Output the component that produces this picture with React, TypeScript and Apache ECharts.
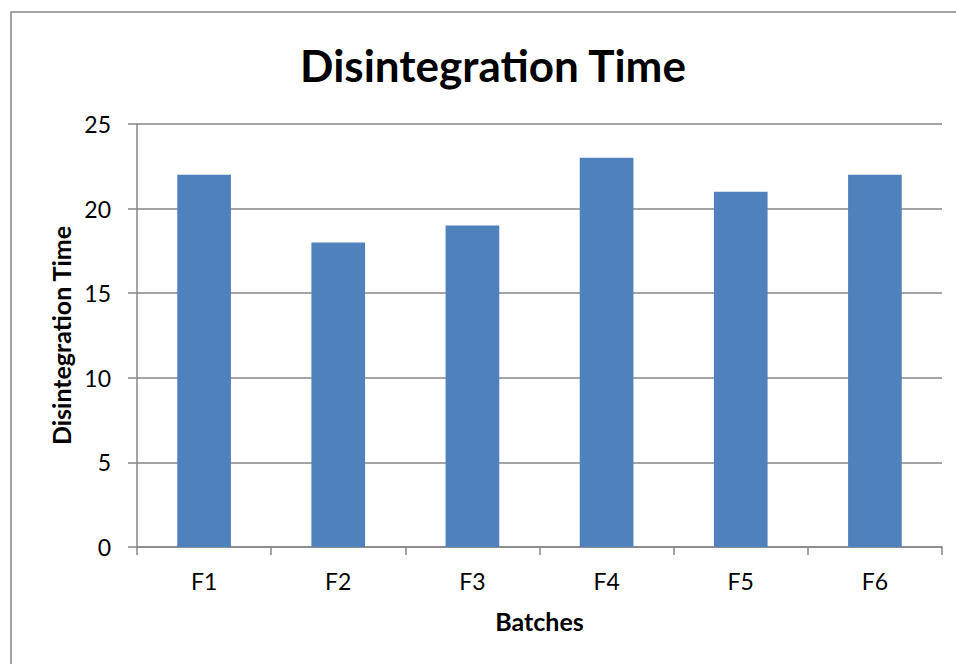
import React, { useEffect, useRef } from "react";
import * as echarts from "echarts";

const categories = ["F1", "F2", "F3", "F4", "F5", "F6"];
const values = [22, 18, 19, 23, 21, 22];
const yTicks = { min: 0, max: 25, interval: 5 };
const titleText = "Disintegration Time";
const yAxisName = "Disintegration Time";
const xAxisName = "Batches";

const FONT = "Lato, 'Open Sans', sans-serif";
const GRAY = "#868686";

export default function App() {
  const ref = useRef<HTMLDivElement>(null);
  useEffect(() => {
    if (!ref.current) return;
    const chart = echarts.init(ref.current, undefined, { renderer: "svg" });
    chart.setOption({
      animation: false,
      backgroundColor: "#ffffff",
      textStyle: { fontFamily: FONT },
      graphic: [
        {
          type: "rect",
          shape: { x: 11, y: 12, width: 980, height: 700 },
          style: { fill: "none", stroke: GRAY, lineWidth: 1.5 },
          silent: true,
        },
      ],
      title: {
        text: titleText,
        left: 488,
        textAlign: "center",
        top: 38,
        textStyle: {
          fontFamily: FONT,
          fontWeight: "bold",
          fontSize: 44,
          color: "#000",
        },
      },
      grid: { left: 137, top: 124, right: 14, bottom: 117, containLabel: false },
      xAxis: {
        type: "category",
        data: categories,
        name: xAxisName,
        nameLocation: "middle",
        nameGap: 61,
        nameTextStyle: { fontFamily: FONT, fontWeight: "bold", fontSize: 25, color: "#000" },
        axisLine: { show: true, lineStyle: { color: GRAY, width: 1.5 } },
        axisTick: { show: true, alignWithLabel: false, length: 8, lineStyle: { color: GRAY, width: 1.5 } },
        axisLabel: { margin: 22, fontFamily: FONT, fontSize: 23, color: "#000" },
        splitLine: { show: false },
      },
      yAxis: {
        type: "value",
        min: yTicks.min,
        max: yTicks.max,
        interval: yTicks.interval,
        name: yAxisName,
        nameLocation: "middle",
        nameGap: 62,
        nameTextStyle: { fontFamily: FONT, fontWeight: "bold", fontSize: 25, color: "#000" },
        axisLine: { show: true, lineStyle: { color: GRAY, width: 1.5 } },
        axisTick: { show: true, length: 9, lineStyle: { color: GRAY, width: 1.5 } },
        axisLabel: { margin: 26, fontFamily: FONT, fontSize: 23, color: "#000" },
        splitLine: { show: true, lineStyle: { color: GRAY, width: 1.5 } },
      },
      series: [
        {
          type: "bar",
          data: values,
          barWidth: "40%",
          itemStyle: { color: "#4F81BD" },
        },
      ],
    });
    return () => chart.dispose();
  }, []);
  return (
    <div
      ref={ref}
      style={{ position: "absolute", left: 0, top: 0, width: 956, height: 664 }}
    />
  );
}
